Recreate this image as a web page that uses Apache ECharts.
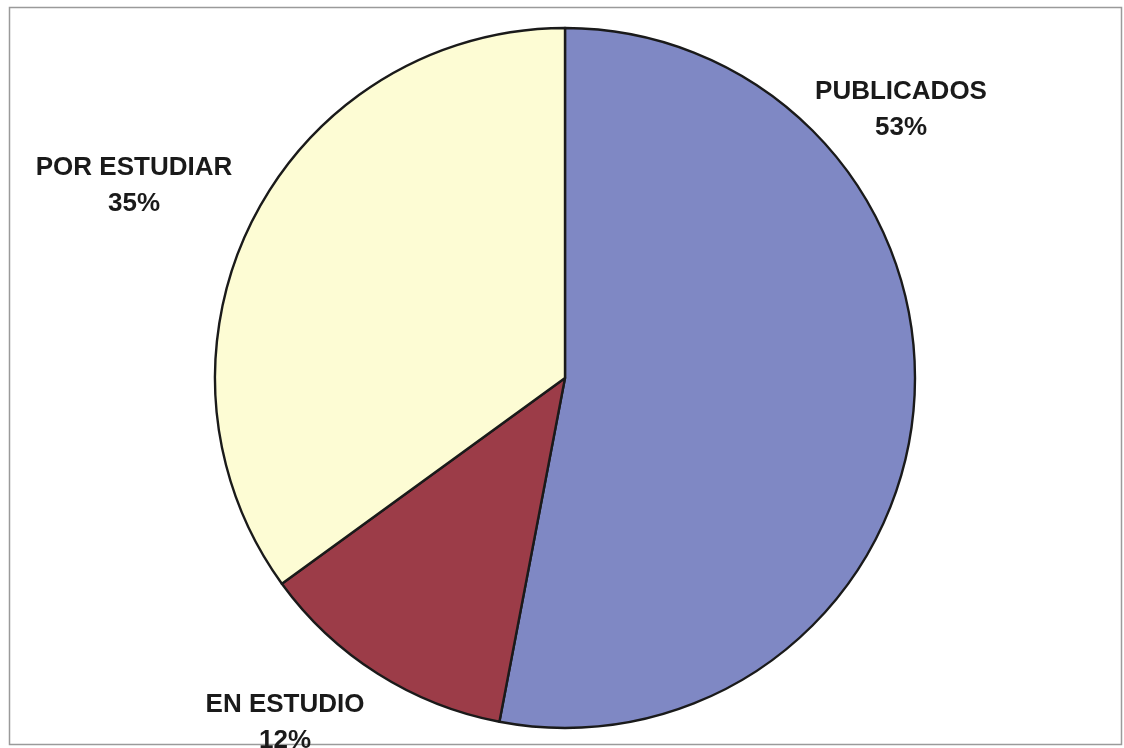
<!DOCTYPE html>
<html>
<head>
<meta charset="utf-8">
<script src="https://cdn.jsdelivr.net/npm/echarts@6/dist/echarts.min.js"></script>
<style>html,body{margin:0;padding:0;background:#fff;}#c{width:1124px;height:748px;}</style>
</head>
<body>
<div id="c"></div>
<script>
const categories = ['PUBLICADOS', 'EN ESTUDIO', 'POR ESTUDIAR'];
const values = [53, 12, 35];
const colors = ['#7f88c4', '#9c3c48', '#fdfcd4'];
const labelPos = [[901, 110], [285, 723], [134, 186]];

const chart = echarts.init(document.getElementById('c'), null, {renderer: 'canvas'});
chart.setOption({
  backgroundColor: '#ffffff',
  animation: false,
  graphic: [{
    type: 'rect',
    shape: {x: 9.5, y: 7.5, width: 1112, height: 737},
    style: {fill: 'none', stroke: '#9a9a9a', lineWidth: 1.5},
    silent: true
  }],
  series: [{
    type: 'pie',
    center: [565, 378],
    radius: [0, 350],
    startAngle: 90,
    clockwise: true,
    itemStyle: {borderColor: '#1a1a1a', borderWidth: 2.4},
    label: {
      show: true,
      position: 'outside',
      formatter: p => p.name + '\n' + p.percent.toFixed(0) + '%',
      fontFamily: 'Liberation Sans, Arial, sans-serif',
      fontWeight: 'bold',
      fontSize: 26,
      lineHeight: 36,
      color: '#1a1a1a',
      align: 'center',
      width: 400,
      overflow: 'none'
    },
    labelLine: {show: false},
    labelLayout: function (params) {
      const p = labelPos[params.dataIndex];
      return {x: p[0], y: p[1], align: 'center', verticalAlign: 'middle'};
    },
    data: categories.map((n, i) => ({name: n, value: values[i], itemStyle: {color: colors[i]}}))
  }]
});
</script>
</body>
</html>
